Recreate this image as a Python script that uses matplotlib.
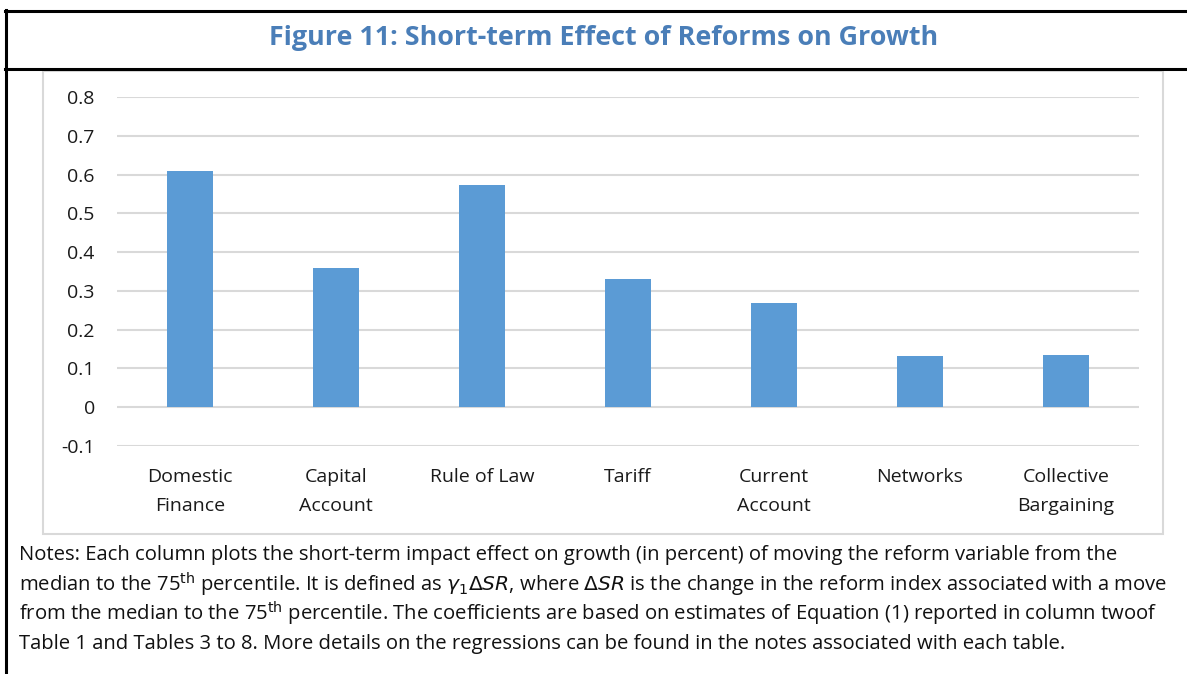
import matplotlib
matplotlib.use("Agg")
import matplotlib.pyplot as plt
from matplotlib.patches import Rectangle
from matplotlib.lines import Line2D

categories = ["Domestic\nFinance", "Capital\nAccount", "Rule of Law", "Tariff",
              "Current\nAccount", "Networks", "Collective\nBargaining"]
values = [0.61, 0.36, 0.572, 0.33, 0.27, 0.132, 0.135]
yticks = [-0.1, 0, 0.1, 0.2, 0.3, 0.4, 0.5, 0.6, 0.7, 0.8]
ytick_labels = ["-0.1", "0", "0.1", "0.2", "0.3", "0.4", "0.5", "0.6", "0.7", "0.8"]

title = "Figure 11: Short-term Effect of Reforms on Growth"
notes = [
    "Notes: Each column plots the short-term impact effect on growth (in percent) of moving the reform variable from the",
    r"median to the 75$^{\rm th}$ percentile. It is defined as $\gamma_1\Delta SR$, where $\Delta SR$ is the change in the reform index associated with a move",
    r"from the median to the 75$^{\rm th}$ percentile. The coefficients are based on estimates of Equation (1) reported in column twoof",
    "Table 1 and Tables 3 to 8. More details on the regressions can be found in the notes associated with each table.",
]

W, H = 1187, 674
fig = plt.figure(figsize=(W / 100, H / 100), dpi=100)
plt.rcParams['font.family'] = ['Open Sans', 'DejaVu Sans']
plt.rcParams['mathtext.fontset'] = 'dejavusans'

def fx(x):
    return x / W

def fy(y):
    return 1 - y / H

# outer frame lines
fig.add_artist(Line2D([fx(6), fx(6)], [fy(10), fy(674)], color="black", lw=2.2))
fig.add_artist(Line2D([fx(5), fx(1187)], [fy(10.5), fy(10.5)], color="black", lw=2.2))
fig.add_artist(Line2D([fx(5), fx(1187)], [fy(69), fy(69)], color="black", lw=2.2))

# chart area box
fig.add_artist(Rectangle((fx(43), fy(534)), fx(1163) - fx(43), fy(71) - fy(534),
                         fill=False, edgecolor="#d9d9d9", lw=1.5))

fig.text(fx(604), fy(38), title, ha="center", va="center", fontsize=19.4,
         fontweight="bold", color="#4A7EB8")

ax = fig.add_axes([fx(117), fy(446), fx(1139) - fx(117), fy(97) - fy(446)])
x = list(range(len(categories)))
ax.bar(x, values, width=0.31, color="#5B9BD5", zorder=3)
ax.set_xlim(-0.5, len(categories) - 0.5)
ax.set_ylim(-0.1, 0.8)
ax.set_yticks(yticks)
ax.set_yticklabels(ytick_labels, fontsize=14, color="#1a1a1a")
ax.set_xticks(x)
ax.set_xticklabels(categories, fontsize=14, color="#1a1a1a", linespacing=1.8)
ax.grid(axis="y", color="#d9d9d9", lw=1.5, zorder=0)
for s in ax.spines.values():
    s.set_visible(False)
ax.tick_params(axis="both", length=0)
ax.tick_params(axis="y", pad=16)
ax.tick_params(axis="x", pad=16)

for i, line in enumerate(notes):
    fig.text(fx(19), fy(555 + i * 29.5), line, ha="left", va="center",
             fontsize=14.6, color="#111111")

fig.savefig("out.png", dpi=100)
